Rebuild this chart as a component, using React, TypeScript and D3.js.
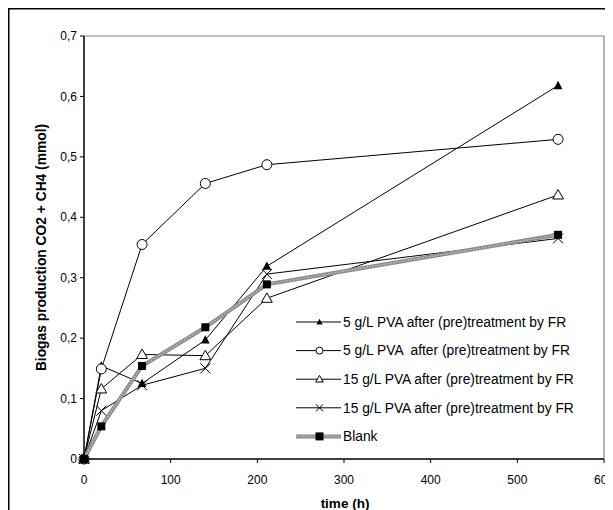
import React from "react";
import * as d3 from "d3";

const times = [0, 20, 67, 140, 211, 547];
const s1 = [0, 0.154, 0.125, 0.197, 0.319, 0.618]; // filled triangle
const s2 = [0, 0.149, 0.355, 0.456, 0.487, 0.529]; // open circle
const s3 = [0, 0.116, 0.173, 0.171, 0.266, 0.437]; // open triangle
const s4 = [0, 0.08, 0.122, 0.15, 0.306, 0.365]; // cross
const blank = [0, 0.054, 0.154, 0.218, 0.289, 0.371]; // filled square
const legendLabels = [
  "5 g/L PVA after (pre)treatment by FR",
  "5 g/L PVA  after (pre)treatment by FR",
  "15 g/L PVA after (pre)treatment by FR",
  "15 g/L PVA after (pre)treatment by FR",
  "Blank",
];
const xTicks = [0, 100, 200, 300, 400, 500, 600];
const yTicks = [0, 0.1, 0.2, 0.3, 0.4, 0.5, 0.6, 0.7];

const W = 605;
const H = 502;
const L = 76, R = 596, T = 28, B = 451;

const x = d3.scaleLinear().domain([0, 600]).range([L, R]);
const y = d3.scaleLinear().domain([0, 0.7]).range([B, T]);
const fmt = (v: number) => (v === 0 ? "0" : d3.format(".1f")(v).replace(".", ","));

type Kind = "tri" | "circle" | "otri" | "cross" | "square";

function Marker({ kind, cx, cy, s = 1 }: { kind: Kind; cx: number; cy: number; s?: number }) {
  if (kind === "tri") {
    const h = 8 * s;
    return <path d={`M${cx},${cy - h * 0.6} L${cx + h * 0.55},${cy + h * 0.45} L${cx - h * 0.55},${cy + h * 0.45} Z`} fill="#000" />;
  }
  if (kind === "otri") {
    const h = 9 * s;
    return <path d={`M${cx},${cy - h * 0.6} L${cx + h * 0.6},${cy + h * 0.45} L${cx - h * 0.6},${cy + h * 0.45} Z`} fill="#fff" stroke="#000" strokeWidth={1} />;
  }
  if (kind === "circle") {
    return <circle cx={cx} cy={cy} r={5 * s} fill="#fff" stroke="#000" strokeWidth={1} />;
  }
  if (kind === "cross") {
    const r = 5 * s;
    return <path d={`M${cx - r},${cy - r} L${cx + r},${cy + r} M${cx - r},${cy + r} L${cx + r},${cy - r}`} stroke="#000" strokeWidth={1} />;
  }
  const r = 4 * s;
  return <rect x={cx - r} y={cy - r} width={2 * r} height={2 * r} fill="#000" />;
}

const seriesList: { vals: number[]; kind: Kind; blank?: boolean }[] = [
  { vals: s1, kind: "tri" },
  { vals: s2, kind: "circle" },
  { vals: s3, kind: "otri" },
  { vals: s4, kind: "cross" },
  { vals: blank, kind: "square", blank: true },
];

export default function App() {
  const line = d3.line<number>().x((_, i) => x(times[i])).y((d) => y(d));
  const font = "'Liberation Sans', Arial, sans-serif";
  const legX1 = 288, legX2 = 333, legY0 = 314, legDy = 28.6;
  return (
    <svg width={W} height={H} style={{ display: "block" }} fontFamily={font}>
      <rect x={0} y={0} width={W} height={H} fill="#fff" />
      <rect x={0.75} y={0.75} width={W + 20} height={H + 20} fill="none" stroke="#000" strokeWidth={1.5} />
      {/* plot frame top/right */}
      <path d={`M${L},${T} H${R} V${B}`} fill="none" stroke="#808080" strokeWidth={1.2} />
      {/* series */}
      {seriesList.map((s, si) => (
        <g key={si}>
          {s.blank ? (
            <>
              <path d={line(s.vals) || ""} fill="none" stroke="#8c8c8c" strokeWidth={4} />
              <path d={line(s.vals) || ""} fill="none" stroke="#c8c8c8" strokeWidth={1.2} strokeDasharray="1.5,1.5" />
            </>
          ) : (
            <path d={line(s.vals) || ""} fill="none" stroke="#000" strokeWidth={1} />
          )}
          {s.vals.map((v, i) => (
            <Marker key={i} kind={s.kind} cx={x(times[i])} cy={y(v)} />
          ))}
        </g>
      ))}
      {/* axes */}
      <line x1={L} x2={L} y1={T} y2={B} stroke="#000" strokeWidth={1.5} />
      <line x1={L} x2={R} y1={B} y2={B} stroke="#000" strokeWidth={1.5} />
      {yTicks.map((t) => (
        <g key={t}>
          <line x1={L - 4} x2={L} y1={y(t)} y2={y(t)} stroke="#000" strokeWidth={1} />
          <text x={L - 7} y={y(t)} dy="0.35em" textAnchor="end" fontSize={12}>{fmt(t)}</text>
        </g>
      ))}
      {xTicks.map((t) => (
        <g key={t}>
          <line x1={x(t)} x2={x(t)} y1={B} y2={B + 4} stroke="#000" strokeWidth={1} />
          <text x={x(t)} y={B + 25} textAnchor="middle" fontSize={12}>{t}</text>
        </g>
      ))}
      <text x={(L + R) / 2 + 1} y={500} textAnchor="middle" fontSize={13.5} fontWeight="bold">time (h)</text>
      <text transform={`translate(38,${(T + B) / 2}) rotate(-90)`} textAnchor="middle" fontSize={13.8} fontWeight="bold">
        Biogas production CO2 + CH4 (mmol)
      </text>
      {/* legend */}
      {seriesList.map((s, i) => {
        const ly = legY0 + i * legDy;
        const mx = (legX1 + legX2) / 2 + 1;
        return (
          <g key={i}>
            {s.blank ? (
              <>
                <line x1={legX1} x2={legX2} y1={ly} y2={ly} stroke="#8c8c8c" strokeWidth={4} />
                <line x1={legX1} x2={legX2} y1={ly} y2={ly} stroke="#c8c8c8" strokeWidth={1.2} strokeDasharray="1.5,1.5" />
              </>
            ) : (
              <line x1={legX1} x2={legX2} y1={ly} y2={ly} stroke="#000" strokeWidth={1} />
            )}
            <Marker kind={s.kind} cx={mx} cy={ly} s={s.blank ? 1 : 0.7} />
            <text x={legX2 + 2} y={ly} dy="0.35em" fontSize={13.8} style={{ whiteSpace: "pre" }}>{legendLabels[i]}</text>
          </g>
        );
      })}
    </svg>
  );
}
